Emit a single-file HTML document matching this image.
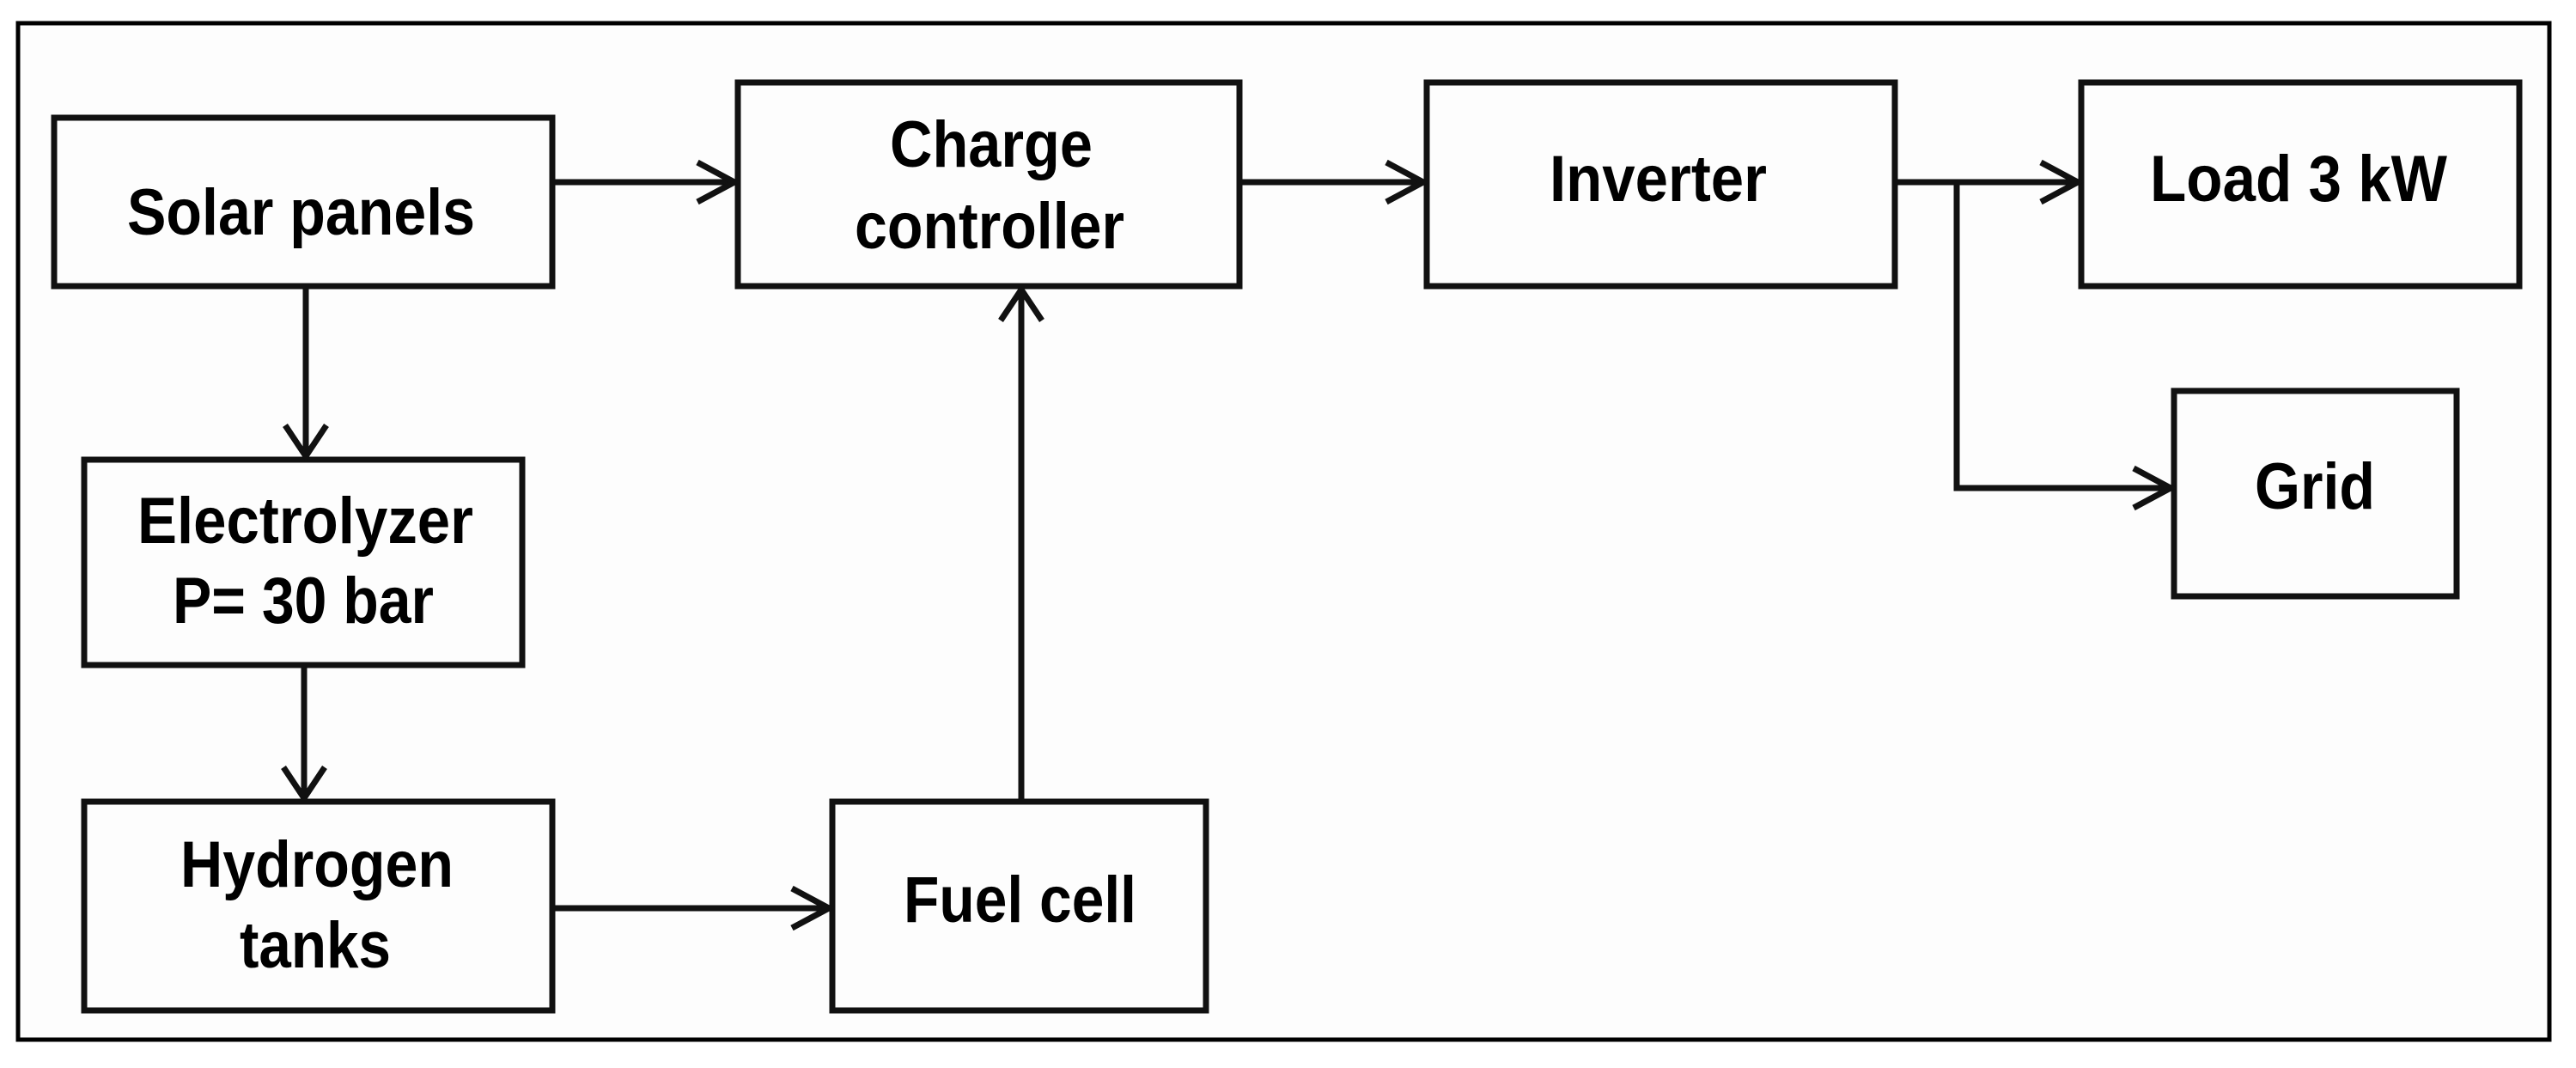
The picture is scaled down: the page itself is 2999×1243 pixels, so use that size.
<!DOCTYPE html>
<html><head><style>html,body{margin:0;padding:0;background:#fff}svg{display:block}</style></head><body>
<svg width="2999" height="1243" viewBox="0 0 2999 1243" xmlns="http://www.w3.org/2000/svg">
<rect x="0" y="0" width="2999" height="1243" fill="#fff"/>
<rect x="21" y="27" width="2947" height="1183" fill="#fdfdfd" stroke="#000" stroke-width="5"/>
<g fill="none" stroke="#111" stroke-width="7">
<rect x="63" y="137" width="580" height="196"/>
<rect x="859" y="96" width="584" height="237"/>
<rect x="98" y="535" width="510" height="239"/>
<rect x="98" y="933" width="545" height="243"/>
<rect x="969" y="933" width="435" height="243"/>
<rect x="1661" y="96" width="545" height="237"/>
<rect x="2423" y="96" width="510" height="237"/>
<rect x="2531" y="455" width="329" height="239"/>
</g>
<g fill="none" stroke="#111" stroke-width="7" stroke-linejoin="miter">
<line x1="643" y1="212" x2="857" y2="212"/><polyline points="812,189 855,212 812,235"/>
<line x1="1443" y1="212" x2="1659" y2="212"/><polyline points="1614,189 1657,212 1614,235"/>
<line x1="2206" y1="212" x2="2421" y2="212"/><polyline points="2376,189 2419,212 2376,235"/>
<polyline points="2278,212 2278,568 2529,568"/><polyline points="2484,545 2527,568 2484,591"/>
<line x1="356" y1="333" x2="356" y2="533"/><polyline points="332,495 356,531 380,495"/>
<line x1="354" y1="774" x2="354" y2="931"/><polyline points="330,893 354,929 378,893"/>
<line x1="643" y1="1057" x2="967" y2="1057"/><polyline points="922,1034 965,1057 922,1080"/>
<line x1="1189" y1="933" x2="1189" y2="335"/><polyline points="1165,373 1189,337 1213,373"/>
</g>
<g font-family="Liberation Sans, Arial, sans-serif" font-weight="bold" font-size="76" fill="#000">
<text x="148" y="273" textLength="405" lengthAdjust="spacingAndGlyphs">Solar panels</text>
<text x="1036" y="194" textLength="236" lengthAdjust="spacingAndGlyphs">Charge</text>
<text x="995" y="289" textLength="314" lengthAdjust="spacingAndGlyphs">controller</text>
<text x="160" y="632" textLength="391" lengthAdjust="spacingAndGlyphs">Electrolyzer</text>
<text x="201" y="725" textLength="304" lengthAdjust="spacingAndGlyphs">P= 30 bar</text>
<text x="210" y="1032" textLength="318" lengthAdjust="spacingAndGlyphs">Hydrogen</text>
<text x="279" y="1126" textLength="176" lengthAdjust="spacingAndGlyphs">tanks</text>
<text x="1052" y="1073" textLength="271" lengthAdjust="spacingAndGlyphs">Fuel cell</text>
<text x="1804" y="234" textLength="253" lengthAdjust="spacingAndGlyphs">Inverter</text>
<text x="2503" y="234" textLength="346" lengthAdjust="spacingAndGlyphs">Load 3 kW</text>
<text x="2625" y="592" textLength="140" lengthAdjust="spacingAndGlyphs">Grid</text>
</g>
</svg>
</body></html>
